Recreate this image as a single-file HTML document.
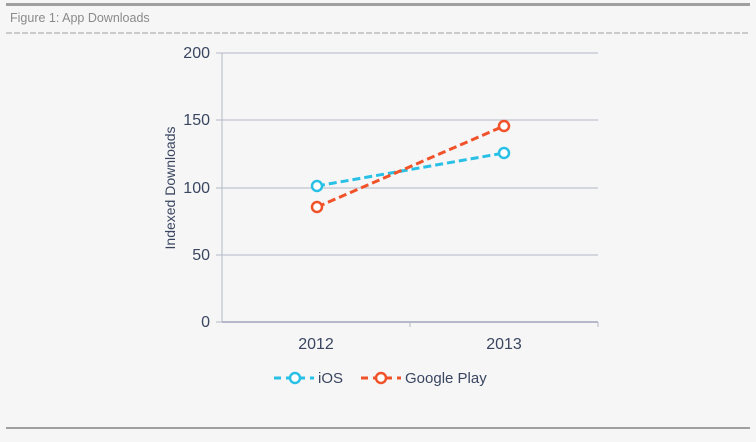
<!DOCTYPE html><html><head><style>body{margin:0;width:756px;height:437px;background:#f6f6f6;overflow:hidden;font-family:"Liberation Sans",sans-serif}</style></head><body>
<svg width="756" height="437" xmlns="http://www.w3.org/2000/svg">
<rect x="6" y="3" width="744" height="3" fill="#a0a0a0"/>
<text x="10" y="22" font-size="12.5" fill="#8a8a8a">Figure 1: App Downloads</text>
<line x1="6" y1="33" x2="750" y2="33" stroke="#a0a0a0" stroke-dasharray="6,2"/>
<rect x="6" y="427" width="744" height="2" fill="#a0a0a0"/>
<g stroke="#b4b8c8" stroke-width="1">
<line x1="222" y1="53" x2="598" y2="53"/><line x1="222" y1="120" x2="598" y2="120"/><line x1="222" y1="188" x2="598" y2="188"/><line x1="222" y1="255" x2="598" y2="255"/>
<line x1="222" y1="53" x2="222" y2="322"/>
<line x1="216" y1="53" x2="222" y2="53"/><line x1="216" y1="120" x2="222" y2="120"/><line x1="216" y1="188" x2="222" y2="188"/><line x1="216" y1="255" x2="222" y2="255"/><line x1="216" y1="322" x2="222" y2="322"/>
<line x1="410" y1="322" x2="410" y2="327"/><line x1="598" y1="322" x2="598" y2="327"/>
</g>
<line x1="222" y1="322" x2="598" y2="322" stroke="#b4b8c8" stroke-width="2"/>
<g font-size="16" fill="#3a4660" text-anchor="end">
<text x="210" y="58">200</text><text x="210" y="125">150</text><text x="210" y="193">100</text><text x="210" y="260">50</text><text x="210" y="327">0</text>
</g>
<g font-size="16" fill="#3a4660" text-anchor="middle"><text x="316" y="349">2012</text><text x="504" y="349">2013</text></g>
<text transform="translate(175,188) rotate(-90)" font-size="14" fill="#3a4660" text-anchor="middle">Indexed Downloads</text>
<line x1="317" y1="186" x2="504" y2="153" stroke="#29c0e6" stroke-width="3" stroke-dasharray="8,4"/>
<line x1="317" y1="207" x2="504" y2="126" stroke="#f0522a" stroke-width="3" stroke-dasharray="8,4"/>
<g fill="#fff" stroke-width="2.5">
<circle cx="317" cy="186" r="5" stroke="#29c0e6"/><circle cx="504" cy="153" r="5" stroke="#29c0e6"/>
<circle cx="317" cy="207" r="5" stroke="#f0522a"/><circle cx="504" cy="126" r="5" stroke="#f0522a"/>
</g>
<line x1="274" y1="378" x2="314" y2="378" stroke="#29c0e6" stroke-width="3" stroke-dasharray="7,5"/>
<circle cx="295" cy="378" r="5" fill="#fff" stroke="#29c0e6" stroke-width="2.5"/>
<text x="318" y="383" font-size="15" fill="#3a4660">iOS</text>
<line x1="361" y1="378" x2="401" y2="378" stroke="#f0522a" stroke-width="3" stroke-dasharray="7,5"/>
<circle cx="381" cy="378" r="5" fill="#fff" stroke="#f0522a" stroke-width="2.5"/>
<text x="405" y="383" font-size="15" fill="#3a4660">Google Play</text>
</svg></body></html>
